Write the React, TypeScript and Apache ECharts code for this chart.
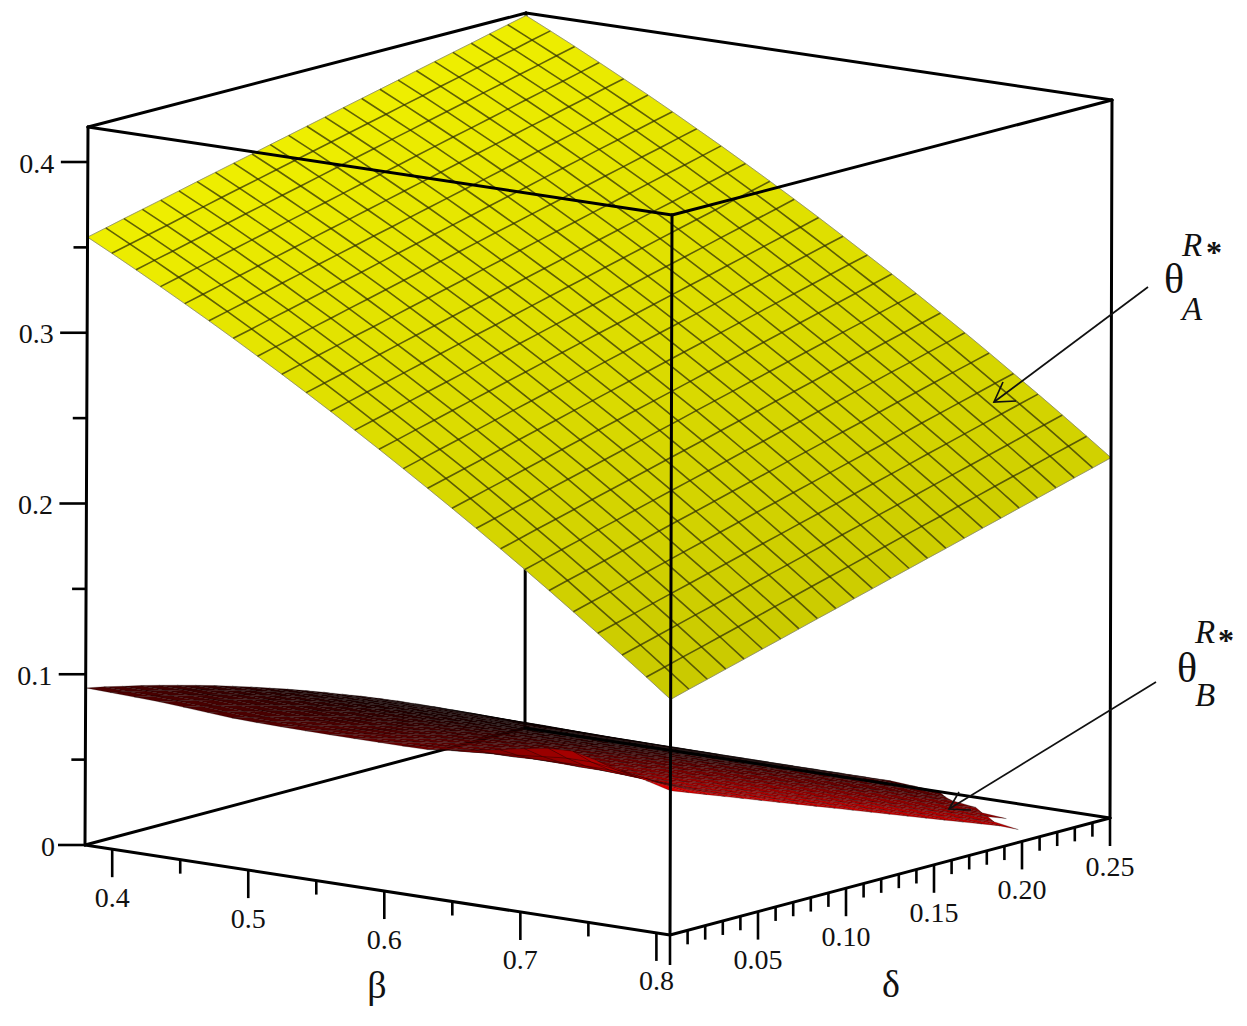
import React, { useEffect, useRef } from "react";
import * as echarts from "echarts";

const betaValues = [0.38,0.3979,0.4158,0.4338,0.4517,0.4696,0.4875,0.5054,0.5233,0.5413,0.5592,0.5771,0.595,0.6129,0.6308,0.6488,0.6667,0.6846,0.7025,0.7204,0.7383,0.7563,0.7742,0.7921,0.81];
const deltaValues = [0,0.0104,0.0208,0.0313,0.0417,0.0521,0.0625,0.0729,0.0833,0.0938,0.1042,0.1146,0.125,0.1354,0.1458,0.1563,0.1667,0.1771,0.1875,0.1979,0.2083,0.2188,0.2292,0.2396,0.25];

const betaMajor = [0.4,0.5,0.6,0.7,0.8];
const betaLabels = ["0.4","0.5","0.6","0.7","0.8"];
const betaMinor = [0.45,0.55,0.65,0.75];
const deltaMajor = [0.05,0.1,0.15,0.2,0.25];
const deltaLabels = ["0.05","0.10","0.15","0.20","0.25"];
const deltaMinor = [0.01,0.02,0.03,0.04,0.06,0.07,0.08,0.09,0.11,0.12,0.13,0.14,0.16,0.17,0.18,0.19,0.21,0.22,0.23,0.24];
const thetaMajor = [0,0.1,0.2,0.3,0.4];
const thetaLabels = ["0","0.1","0.2","0.3","0.4"];
const thetaMinor = [0.05,0.15,0.25,0.35];

// theta_A^R*: one row per beta, one column per delta
const thetaA = [
[.3560,.3586,.3613,.3639,.3665,.3691,.3718,.3744,.3770,.3796,.3823,.3849,.3875,.3901,.3928,.3954,.3980,.4006,.4033,.4059,.4085,.4111,.4138,.4164,.4190],
[.3487,.3513,.3540,.3566,.3593,.3619,.3646,.3672,.3698,.3725,.3751,.3778,.3804,.3830,.3857,.3883,.3910,.3936,.3963,.3989,.4016,.4042,.4068,.4095,.4121],
[.3412,.3439,.3465,.3492,.3518,.3545,.3572,.3598,.3625,.3651,.3678,.3705,.3731,.3758,.3785,.3811,.3838,.3864,.3891,.3918,.3944,.3971,.3997,.4024,.4051],
[.3335,.3362,.3389,.3415,.3442,.3469,.3496,.3523,.3549,.3576,.3603,.3630,.3656,.3683,.3710,.3737,.3764,.3790,.3817,.3844,.3871,.3898,.3924,.3951,.3978],
[.3257,.3284,.3311,.3338,.3365,.3392,.3419,.3446,.3473,.3500,.3527,.3554,.3581,.3608,.3635,.3662,.3689,.3716,.3743,.3770,.3796,.3823,.3850,.3877,.3904],
[.3178,.3205,.3232,.3259,.3287,.3314,.3341,.3368,.3395,.3422,.3449,.3477,.3504,.3531,.3558,.3585,.3612,.3640,.3667,.3694,.3721,.3748,.3775,.3802,.3830],
[.3097,.3124,.3152,.3179,.3206,.3234,.3261,.3288,.3316,.3343,.3370,.3398,.3425,.3452,.3480,.3507,.3534,.3562,.3589,.3616,.3644,.3671,.3698,.3726,.3753],
[.3014,.3042,.3069,.3097,.3124,.3152,.3179,.3207,.3234,.3262,.3289,.3317,.3344,.3372,.3399,.3427,.3454,.3482,.3509,.3537,.3564,.3592,.3619,.3647,.3674],
[.2930,.2958,.2985,.3013,.3041,.3068,.3096,.3124,.3152,.3179,.3207,.3235,.3262,.3290,.3318,.3345,.3373,.3401,.3428,.3456,.3484,.3512,.3539,.3567,.3595],
[.2844,.2872,.2900,.2928,.2955,.2983,.3011,.3039,.3067,.3095,.3123,.3151,.3178,.3206,.3234,.3262,.3290,.3318,.3346,.3374,.3401,.3429,.3457,.3485,.3513],
[.2757,.2785,.2813,.2841,.2869,.2897,.2925,.2953,.2981,.3009,.3038,.3066,.3094,.3122,.3150,.3178,.3206,.3234,.3262,.3290,.3318,.3346,.3374,.3402,.3430],
[.2668,.2696,.2724,.2753,.2781,.2809,.2837,.2866,.2894,.2922,.2950,.2979,.3007,.3035,.3063,.3091,.3120,.3148,.3176,.3204,.3233,.3261,.3289,.3317,.3346],
[.2578,.2606,.2635,.2663,.2692,.2720,.2748,.2777,.2805,.2834,.2862,.2891,.2919,.2947,.2976,.3004,.3033,.3061,.3089,.3118,.3146,.3175,.3203,.3231,.3260],
[.2486,.2515,.2543,.2572,.2600,.2629,.2658,.2686,.2715,.2743,.2772,.2801,.2829,.2858,.2886,.2915,.2943,.2972,.3001,.3029,.3058,.3086,.3115,.3144,.3172],
[.2393,.2422,.2451,.2479,.2508,.2537,.2566,.2594,.2623,.2652,.2681,.2709,.2738,.2767,.2796,.2825,.2853,.2882,.2911,.2940,.2968,.2997,.3026,.3055,.3083],
[.2298,.2327,.2356,.2385,.2414,.2443,.2472,.2501,.2530,.2559,.2588,.2616,.2645,.2674,.2703,.2732,.2761,.2790,.2819,.2848,.2877,.2906,.2935,.2964,.2993],
[.2202,.2231,.2260,.2289,.2319,.2348,.2377,.2406,.2435,.2464,.2493,.2522,.2552,.2581,.2610,.2639,.2668,.2697,.2726,.2755,.2785,.2814,.2843,.2872,.2901],
[.2104,.2133,.2163,.2192,.2221,.2251,.2280,.2309,.2338,.2368,.2397,.2426,.2456,.2485,.2514,.2544,.2573,.2602,.2632,.2661,.2690,.2720,.2749,.2778,.2807],
[.2005,.2034,.2064,.2093,.2123,.2152,.2182,.2211,.2241,.2270,.2300,.2329,.2359,.2388,.2418,.2447,.2477,.2506,.2536,.2565,.2595,.2624,.2654,.2683,.2713],
[.1904,.1934,.1963,.1993,.2023,.2052,.2082,.2112,.2141,.2171,.2201,.2230,.2260,.2290,.2319,.2349,.2379,.2408,.2438,.2468,.2497,.2527,.2557,.2586,.2616],
[.1801,.1831,.1861,.1891,.1920,.1950,.1980,.2010,.2040,.2070,.2100,.2129,.2159,.2189,.2219,.2249,.2279,.2308,.2338,.2368,.2398,.2428,.2458,.2488,.2517],
[.1697,.1727,.1757,.1787,.1817,.1847,.1877,.1907,.1937,.1967,.1997,.2027,.2057,.2087,.2117,.2147,.2177,.2207,.2238,.2268,.2298,.2328,.2358,.2388,.2418],
[.1592,.1622,.1652,.1683,.1713,.1743,.1773,.1803,.1834,.1864,.1894,.1924,.1955,.1985,.2015,.2045,.2075,.2106,.2136,.2166,.2196,.2226,.2257,.2287,.2317],
[.1485,.1515,.1546,.1576,.1607,.1637,.1667,.1698,.1728,.1759,.1789,.1819,.1850,.1880,.1911,.1941,.1971,.2002,.2032,.2063,.2093,.2123,.2154,.2184,.2214],
[.1376,.1407,.1437,.1468,.1498,.1529,.1559,.1590,.1621,.1651,.1682,.1712,.1743,.1773,.1804,.1834,.1865,.1896,.1926,.1957,.1987,.2018,.2049,.2079,.2110],
];

// theta_B^R*: one row per beta, one column per delta; null where the surface is not drawn
const _ = null;
const thetaB = [
[.0920,.0898,.0873,.0849,.0822,.0794,.0765,.0735,.0703,.0670,.0635,.0600,.0563,.0525,.0485,.0445,.0403,.0360,.0315,.0269,.0222,.0174,.0123,.0073,.0020],
[.0915,.0892,.0867,.0842,.0816,.0788,.0758,.0728,.0696,.0663,.0629,.0594,.0557,.0519,.0480,.0440,.0397,.0355,.0311,.0265,.0219,.0171,.0122,.0071,.0020],
[.0910,.0887,.0862,.0836,.0809,.0781,.0752,.0721,.0689,.0656,.0622,.0587,.0550,.0513,.0474,.0434,.0393,.0351,.0307,.0261,.0215,.0168,.0120,.0071,.0020],
[.0905,.0881,.0856,.0830,.0802,.0775,.0745,.0714,.0682,.0649,.0615,.0580,.0545,.0507,.0468,.0428,.0387,.0345,.0302,.0258,.0213,.0167,.0119,.0070,.0020],
[.0895,.0871,.0846,.0820,.0792,.0764,.0734,.0704,.0672,.0640,.0605,.0571,.0535,.0498,.0459,.0421,.0380,.0339,.0296,.0253,.0208,.0163,.0116,.0068,.0020],
[.0885,.0861,.0835,.0809,.0782,.0754,.0724,.0694,.0662,.0630,.0597,.0562,.0527,.0490,.0453,.0414,.0374,.0334,.0292,.0250,.0206,.0161,.0114,.0068,.0020],
[.0875,.0850,.0825,.0798,.0772,.0743,.0713,.0684,.0652,.0620,.0587,.0552,.0518,.0481,.0445,.0406,.0367,.0328,.0286,.0245,.0202,.0157,.0113,.0067,.0020],
[.0870,.0846,.0819,.0793,.0765,.0737,.0708,.0677,.0646,.0614,.0580,.0546,.0511,.0475,.0439,.0401,.0363,.0323,.0283,.0242,.0199,.0156,.0111,.0067,.0020],
[.0868,.0843,.0816,.0789,.0761,.0733,.0703,.0672,.0641,.0608,.0575,.0542,.0506,.0471,.0434,.0397,.0358,.0319,.0280,.0238,.0196,.0154,.0110,.0066,.0020],
[.0866,.0840,.0814,.0785,.0757,.0728,.0699,.0668,.0636,.0604,.0571,.0537,.0501,.0466,.0430,.0393,.0355,.0316,.0276,.0235,.0194,.0151,.0109,.0065,.0020],
[.0865,.0839,.0811,.0783,.0754,.0725,.0695,.0664,.0631,.0599,.0566,.0532,.0497,.0461,.0425,.0388,.0350,.0312,.0273,.0232,.0191,.0150,.0107,.0065,.0020],
[.0864,.0837,.0809,.0780,.0751,.0721,.0691,.0660,.0628,.0595,.0562,.0528,.0493,.0457,.0421,.0384,.0347,.0309,.0270,.0229,.0189,.0148,.0106,.0064,.0020],
[.0864,.0836,.0808,.0778,.0749,.0719,.0688,.0657,.0624,.0592,.0558,.0524,.0489,.0453,.0417,.0381,.0343,.0306,.0267,.0227,.0187,.0146,.0105,.0063,.0020],
[.0864,.0836,.0807,.0777,.0747,.0716,.0685,.0653,.0621,.0588,.0555,.0520,.0485,.0449,.0414,.0377,.0340,.0302,.0264,.0224,.0185,.0145,.0104,.0063,.0020],
[.0865,.0836,.0807,.0776,.0745,.0715,.0683,.0651,.0618,.0585,.0552,.0517,.0482,.0446,.0410,.0373,.0336,.0300,.0261,.0222,.0183,.0143,.0103,.0062,.0020],
[.0881,.0845,.0809,.0775,.0742,.0710,.0678,.0646,.0613,.0580,.0546,.0512,.0477,.0441,.0405,.0369,.0332,.0295,.0257,.0219,.0179,.0140,.0101,.0061,.0020],
[.0905,.0857,.0811,.0772,.0735,.0703,.0671,.0638,.0605,.0570,.0536,.0502,.0466,.0431,.0394,.0358,.0321,.0284,.0246,.0207,.0169,.0130,.0090,.0050,.0010],
[.0930,.0869,.0816,.0770,.0730,.0697,.0664,.0631,.0596,.0562,.0527,.0492,.0456,.0420,.0384,.0348,.0310,.0273,.0235,.0197,.0158,.0119,.0080,.0040,.0000],
[.0958,.0884,.0821,.0766,.0723,.0688,.0654,.0619,.0585,.0549,.0514,.0477,.0441,.0404,.0368,.0330,.0293,.0254,.0216,.0177,.0139,.0099,.0060,.0020,_],
[.0981,.0896,.0823,.0765,.0717,.0682,.0647,.0611,.0576,.0540,.0504,.0467,.0432,.0394,.0357,.0319,.0281,.0244,.0206,.0167,.0128,.0089,.0050,_,_],
[.0986,.0896,.0821,.0758,.0710,.0673,.0638,.0601,.0565,.0528,.0491,.0453,.0417,.0378,.0341,.0303,.0265,.0226,.0188,.0148,.0110,.0070,.0031,_,_],
[.0952,.0874,.0806,.0748,.0702,.0665,.0627,.0590,.0552,.0515,.0476,.0439,.0401,.0363,.0323,.0285,.0246,.0208,.0168,.0129,.0090,.0050,_,_,_],
[.0917,.0851,.0792,.0740,.0696,.0658,.0620,.0582,.0544,.0506,.0468,.0429,.0391,.0352,.0314,.0274,.0235,.0196,.0157,.0118,.0078,.0038,_,_,_],
[.0880,.0828,.0778,.0733,.0691,.0652,.0613,.0574,.0535,.0495,.0456,.0417,.0376,.0337,.0298,.0258,.0219,.0179,.0139,.0099,_,_,_,_,_],
[.0843,.0803,.0763,.0723,.0683,.0643,.0603,.0564,.0524,.0484,.0444,.0404,.0364,.0324,.0284,.0244,.0204,.0165,.0125,.0075,_,_,_,_,_],
];

const BETA_MIN = 0.38, BETA_MAX = 0.81, DELTA_MAX = 0.25, THETA_MAX = 0.4205;
const SERIF = '"Liberation Serif", serif';

// screen positions of the eight corners of the plot box
const floorCorners = [[85, 845], [670, 935], [525, 728], [1110, 818]];
const roofCorners = [[88, 127], [672, 215], [526, 13], [1112, 100]];

function project(b: number, d: number, t: number): number[] {
  const u = (b - BETA_MIN) / (BETA_MAX - BETA_MIN), v = d / DELTA_MAX, w = t / THETA_MAX;
  const mix = (c: number[][], k: number) =>
    (1 - u) * (1 - v) * c[0][k] + u * (1 - v) * c[1][k] + (1 - u) * v * c[2][k] + u * v * c[3][k];
  return [0, 1].map((k) => (1 - w) * mix(floorCorners, k) + w * mix(roofCorners, k));
}

const cellIndex: number[][] = [];
for (let i = 0; i < 24; i++) for (let j = 23; j >= 0; j--) cellIndex.push([i, j]);

const boxBack = [
  [BETA_MIN, 0, 0, BETA_MIN, DELTA_MAX, 0],
  [BETA_MIN, DELTA_MAX, 0, BETA_MIN, DELTA_MAX, THETA_MAX],
];
const boxFront = [
  [BETA_MIN, 0, 0, BETA_MAX, 0, 0],
  [BETA_MAX, 0, 0, BETA_MAX, DELTA_MAX, 0],
  [BETA_MIN, DELTA_MAX, 0, BETA_MAX, DELTA_MAX, 0],
  [BETA_MIN, 0, 0, BETA_MIN, 0, THETA_MAX],
  [BETA_MAX, 0, 0, BETA_MAX, 0, THETA_MAX],
  [BETA_MAX, DELTA_MAX, 0, BETA_MAX, DELTA_MAX, THETA_MAX],
  [BETA_MIN, 0, THETA_MAX, BETA_MAX, 0, THETA_MAX],
  [BETA_MAX, 0, THETA_MAX, BETA_MAX, DELTA_MAX, THETA_MAX],
  [BETA_MAX, DELTA_MAX, THETA_MAX, BETA_MIN, DELTA_MAX, THETA_MAX],
  [BETA_MIN, DELTA_MAX, THETA_MAX, BETA_MIN, 0, THETA_MAX],
];

const base = { type: "custom", coordinateSystem: "cartesian2d", silent: true, clip: false, encode: { x: 0, y: 1 } };

function boxSeries(edges: number[][], z: number) {
  return {
    ...base, z, data: edges,
    renderItem: (_p: any, api: any) => {
      const a = api.coord(project(api.value(0), api.value(1), api.value(2)));
      const c = api.coord(project(api.value(3), api.value(4), api.value(5)));
      return { type: "line", shape: { x1: a[0], y1: a[1], x2: c[0], y2: c[1] }, style: { stroke: "#000", lineWidth: 3, lineCap: "round" } };
    },
  };
}

function tickSeries(values: number[], labels: string[] | null, kind: string, length: number) {
  return {
    ...base, z: 6, data: values.map((v, n) => [v, n]),
    renderItem: (_p: any, api: any) => {
      const val = api.value(0), n = api.value(1);
      const from = kind === "beta" ? project(val, 0, 0) : kind === "delta" ? project(BETA_MAX, val, 0) : project(BETA_MIN, 0, val);
      const a = api.coord(from);
      const children: any[] = [];
      const dx = kind === "theta" ? -length : 0, dy = kind === "theta" ? 0 : length;
      children.push({ type: "line", shape: { x1: a[0], y1: a[1], x2: a[0] + dx, y2: a[1] + dy }, style: { stroke: "#000", lineWidth: 2.6 } });
      if (labels) {
        const x = kind === "theta" ? (labels[n] === "0" ? a[0] - 37 : a[0] - 51) : a[0];
        const y = kind === "theta" ? a[1] + 1 : a[1] + 48;
        children.push({ type: "text", style: { text: labels[n], x, y, font: `28px ${SERIF}`, fill: "#111", align: "center", verticalAlign: "middle" } });
      }
      return { type: "group", children };
    },
  };
}

function surfaceCell(api: any, m: (number | null)[][], stroke: (i: number, j: number) => any) {
  const i = api.value(0), j = api.value(1);
  const pts: number[][] = [];
  for (const [a, c] of [[i, j], [i + 1, j], [i + 1, j + 1], [i, j + 1]]) {
    const t = m[a][c];
    if (t !== null) pts.push(api.coord(project(betaValues[a], deltaValues[c], t)));
  }
  if (pts.length < 3) return null;
  return { type: "polygon", shape: { points: pts }, style: stroke(i, j) };
}

function yellowAt(i: number, j: number) {
  const t = i / 24, s = j / 24;
  const g = Math.round(238 - 38 * t + 8 * s * t);
  return `rgb(${g},${g},0)`;
}

function redAt(i: number, j: number) {
  const t = i / 24, s = j / 24;
  const l = Math.max(0.12, 0.3 + 0.62 * Math.pow(t, 2.5) - 0.4 * s * (1 - 0.6 * t));
  return `rgb(${Math.round(255 * l)},0,0)`;
}

const meshLines: number[][] = [];
for (let k = 0; k < 25; k++) { meshLines.push([0, k]); meshLines.push([1, k]); }

const option: any = {
  animation: false,
  backgroundColor: "#fff",
  grid: { left: 0, right: 0, top: 0, bottom: 0 },
  xAxis: { type: "value", min: 0, max: 1247, show: false },
  yAxis: { type: "value", min: 0, max: 1026, inverse: true, show: false },
  tooltip: { show: false },
  series: [
    boxSeries(boxBack, 1),
    {
      ...base, z: 2, data: cellIndex,
      renderItem: (_p: any, api: any) =>
        surfaceCell(api, thetaB, (i, j) => ({ fill: redAt(i, j), stroke: "rgba(0,0,0,0.45)", lineWidth: 0.5 })),
    },
    {
      ...base, z: 3, data: cellIndex,
      renderItem: (_p: any, api: any) =>
        surfaceCell(api, thetaA, (i, j) => ({ fill: yellowAt(i, j), stroke: yellowAt(i, j), lineWidth: 0.4 })),
    },
    {
      ...base, z: 4, data: meshLines,
      renderItem: (_p: any, api: any) => {
        const dir = api.value(0), k = api.value(1);
        const points = betaValues.map((_b, n) => {
          const a = dir === 0 ? k : n, c = dir === 0 ? n : k;
          return api.coord(project(betaValues[a], deltaValues[c], thetaA[a][c]));
        });
        const edge = k === 0 || k === 24;
        return {
          type: "polyline", shape: { points },
          style: { fill: null, stroke: edge ? "rgba(120,120,120,0.7)" : "rgba(50,50,0,0.75)", lineWidth: edge ? 1 : 1.6 },
        };
      },
    },
    boxSeries(boxFront, 5),
    tickSeries(betaMajor, betaLabels, "beta", 28),
    tickSeries(betaMinor, null, "beta", 14),
    tickSeries([0], null, "delta", 30),
    tickSeries(deltaMajor, deltaLabels, "delta", 28),
    tickSeries(deltaMinor, null, "delta", 14),
    tickSeries(thetaMajor, thetaLabels, "theta", 27),
    tickSeries(thetaMinor, null, "theta", 14),
  ],
  graphic: [
    { type: "polyline", z: 100, shape: { points: [[1148, 287], [994, 402]] }, style: { fill: null, stroke: "#111", lineWidth: 1.7 } },
    { type: "polyline", z: 100, shape: { points: [[1003, 382], [994, 402], [1016, 401]] }, style: { fill: null, stroke: "#111", lineWidth: 1.7 } },
    { type: "polyline", z: 100, shape: { points: [[1156, 682], [949, 809]] }, style: { fill: null, stroke: "#111", lineWidth: 1.7 } },
    { type: "polyline", z: 100, shape: { points: [[959, 792], [949, 809], [971, 810]] }, style: { fill: null, stroke: "#111", lineWidth: 1.7 } },
    ...[
      ["β", 377, 985, 38, ""], ["δ", 891, 984, 38, ""],
      ["θ", 1174, 279, 42, ""], ["R", 1192, 245, 33, "italic "], ["*", 1214, 252, 32, "bold "], ["A", 1192, 309, 33, "italic "],
      ["θ", 1187, 668, 42, ""], ["R", 1205, 632, 33, "italic "], ["*", 1226, 640, 32, "bold "], ["B", 1205, 695, 33, "italic "],
    ].map(([text, x, y, size, style]) => ({
      type: "text", z: 100,
      style: { text, x, y, font: `${style}${size}px ${SERIF}`, fill: "#111", align: "center", verticalAlign: "middle" },
    })),
  ],
};

export default function App() {
  const ref = useRef<HTMLDivElement>(null);
  useEffect(() => {
    document.body.style.margin = "0";
    const chart = echarts.init(ref.current!, undefined, { renderer: "svg" });
    chart.setOption(option);
    return () => chart.dispose();
  }, []);
  return <div ref={ref} style={{ width: 1247, height: 1026 }} />;
}
